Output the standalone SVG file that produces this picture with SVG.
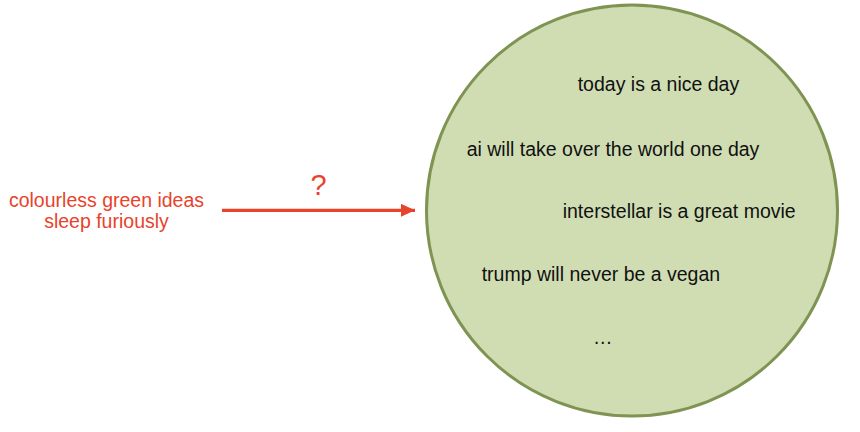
<svg xmlns="http://www.w3.org/2000/svg" width="860" height="432" viewBox="0 0 860 432">
<style>
.t{font-family:"Liberation Sans",Arial,Helvetica,sans-serif;font-size:19.5px;fill:#111}
.r{font-family:"Liberation Sans",Arial,Helvetica,sans-serif;font-size:19.5px;fill:#e8432b;text-anchor:middle}
</style>
<defs>
<marker id="ah" markerUnits="userSpaceOnUse" markerWidth="16" markerHeight="14" refX="14" refY="6.5" orient="auto">
<path d="M0,0 L14,6.5 L0,13 Z" fill="#e8432b"/>
</marker>
</defs>
<rect width="860" height="432" fill="#fff"/>
<g id="source">
<text class="r" x="106.5" y="206.7">colourless green ideas</text>
<text class="r" x="106.5" y="228.3">sleep furiously</text>
</g>
<g id="corpus">
<circle cx="632" cy="210.5" r="205.5" fill="#d0ddb3" stroke="#7f9352" stroke-width="3"/>
<text class="t" x="577.7" y="90.7">today is a nice day</text>
<text class="t" x="466.7" y="155.7">ai will take over the world one day</text>
<text class="t" x="562.7" y="218.3">interstellar is a great movie</text>
<text class="t" x="481.7" y="281">trump will never be a vegan</text>
<text class="t" x="593" y="344">…</text>
</g>
<g id="connectors">
<line x1="222" y1="210.3" x2="415" y2="210.3" stroke="#e8432b" stroke-width="3.2" marker-end="url(#ah)"/>
<text class="r" x="318.5" y="195" style="font-size:29px">?</text>
</g>
</svg>
